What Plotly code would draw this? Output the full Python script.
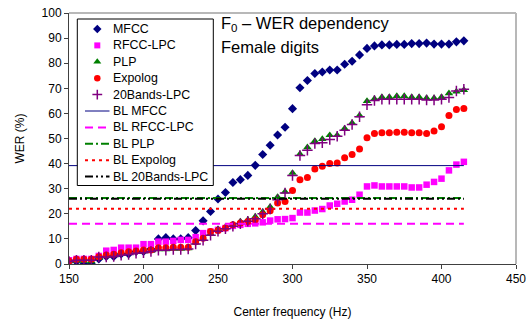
import plotly.graph_objects as go

freq = [150, 155, 160, 165, 170, 175, 180, 185, 190, 195, 200, 205, 210, 215, 220, 225, 230, 235,
        240, 245, 250, 255, 260, 265, 270, 275, 280, 285, 290, 295, 300, 305, 310, 315, 320, 325,
        330, 335, 340, 345, 350, 355, 360, 365, 370, 375, 380, 385, 390, 395, 400, 405, 410, 415]

mfcc = [1, 1, 0, 0, 2, 3, 3, 4, 4, 5, 5, 6, 10, 10.5, 10, 10, 10.5, 13.3, 17.2, 20.9, 25.9, 28.5,
        32.5, 33.6, 35.3, 39.3, 43.6, 47.3, 51.4, 54.5, 61.9, 70.2, 73.1, 75.9, 76.5, 77.3, 77.3,
        79.6, 80.8, 83.3, 85.9, 86.9, 87.3, 87.3, 87.5, 87.5, 87.8, 87.8, 88, 87.6, 87.6, 87.6, 88.5, 88.9]

rfcc_lpc = [1.5, 2, 2, 2, 3.2, 5.3, 5.6, 6.5, 6.5, 6.5, 7.9, 7.9, 8.9, 8.9, 9.2, 9.6, 9.6, 10.7,
            12.3, 12.9, 13.6, 14.3, 15.2, 15.6, 16, 16.2, 16.6, 17.3, 17.8, 17.9, 18.3, 20.5, 20.5,
            21.3, 21.9, 23.3, 24, 24.9, 25.6, 27.6, 30.9, 31.3, 30.9, 30.9, 30.9, 30.9, 30.5, 30.5,
            31.6, 32.7, 34, 37.3, 39.6, 40.7]

plp = [1.0, 1.3, 1.2, 1.0, 2.5, 3.2, 3.5, 4.0, 4.3, 4.8, 5.0, 5.2, 5.8, 5.8, 6.0, 6.0, 6.2, 8.5,
       10, 12, 13.9, 14.5, 15.5, 16.9, 17.6, 18.9, 20.8, 22.8, 26.7, 28.8, 36.3, 43.8, 46.5, 49,
       49.8, 51.3, 51.3, 54, 56.2, 59.2, 64.9, 65.8, 66.5, 66.5, 66.9, 66.9, 66.5, 66.5, 66.1,
       66.1, 66.5, 68, 68.7, 69.3]

expolog = [1.2, 1.9, 1.9, 1.9, 2.9, 3.6, 3.9, 4.5, 4.9, 5.2, 5.6, 5.6, 6.5, 6.5, 6.7, 6.7, 6.7,
           8.9, 10.3, 12.9, 13.3, 14.3, 15.6, 16.3, 16.9, 17.6, 19.6, 21.2, 24.3, 24.9, 29.3,
           33.6, 34.5, 37.8, 38.9, 40, 40.2, 42.3, 43.6, 45.8, 50.3, 52, 52.3, 52.3, 52.5, 52.5,
           52.3, 52.3, 52, 53, 54.7, 59.2, 61.6, 62]

bands20_lpc = [1.0, 1.5, 1.5, 1.5, 2.8, 2.8, 3.0, 3.5, 3.8, 4.3, 4.5, 5.0, 5.5, 5.5, 5.8, 5.8,
               6.0, 8, 9.5, 11.5, 13, 14, 15, 16, 17, 18, 20, 21.9, 25.6, 28.3, 35.3, 43.2, 45.3,
               48, 48.3, 49.6, 50.9, 53.3, 55.6, 58.7, 63.4, 65.1, 65.6, 65.6, 65.6, 65.6, 65.6,
               65.6, 65.3, 65.3, 65.6, 66.3, 68.9, 69.6]

baseline_x = [150, 415]
bl_mfcc = 39.2
bl_rfcc_lpc = 16
bl_plp = 26.3
bl_expolog = 22
bl_20bands = 26

FONT = "Liberation Sans, Arial, sans-serif"

# plot-area geometry (px) used to place the hand-drawn legend
W, H = 531, 320
ML, MR, MT, MB = 69, 15, 13, 56
PW, PH = W - ML - MR, H - MT - MB


def px_x(p):
    return (p - ML) / PW


def px_y(p):
    return (H - MB - p) / PH


marker_series = [
    ("MFCC", mfcc, dict(symbol="diamond", size=7, color="#000080")),
    ("RFCC-LPC", rfcc_lpc, dict(symbol="square", size=6.5, color="#FF00FF")),
    ("PLP", plp, dict(symbol="triangle-up", size=7.5, color="#008000")),
    ("Expolog", expolog, dict(symbol="circle", size=7, color="#FF0000")),
    ("20Bands-LPC", bands20_lpc, dict(symbol="cross-thin", size=7.5, color="#800080",
                                      line=dict(color="#800080", width=1.5))),
]
line_series = [
    ("BL MFCC", bl_mfcc, dict(color="#000080", width=1)),
    ("BL RFCC-LPC", bl_rfcc_lpc, dict(color="#FF00FF", width=2, dash="8px,5px")),
    ("BL PLP", bl_plp, dict(color="#008000", width=2, dash="8px,3px,2px,3px")),
    ("BL Expolog", bl_expolog, dict(color="#FF0000", width=2, dash="3px,4px")),
    ("BL 20Bands-LPC", bl_20bands, dict(color="#000000", width=2, dash="8px,3px,2px,3px,2px,3px")),
]

fig = go.Figure()

for name, vals, mk in marker_series:
    fig.add_trace(go.Scatter(x=freq, y=vals, mode="markers", name=name, marker=mk,
                             showlegend=False))
for name, val, ln in line_series:
    fig.add_trace(go.Scatter(x=baseline_x, y=[val, val], mode="lines", name=name, line=ln,
                             showlegend=False))

# hand-drawn legend on an overlay axis (paper fractions of the plot area)
box_l, box_r, box_t, box_b = 77.3, 213.3, 19, 185.5
fig.add_trace(go.Scatter(
    x=[px_x(box_l), px_x(box_r), px_x(box_r), px_x(box_l), px_x(box_l)],
    y=[px_y(box_t), px_y(box_t), px_y(box_b), px_y(box_b), px_y(box_t)],
    mode="lines", fill="toself", fillcolor="white", line=dict(color="#000000", width=1),
    xaxis="x2", yaxis="y2", showlegend=False, hoverinfo="skip"))

row0, row_step = 29, 16.4
sym_x, line_x0, line_x1, text_x = 97.3, 85, 109.5, 111
annotations = []
for k, (name, _, mk) in enumerate(marker_series):
    yy = px_y(row0 + k * row_step)
    small = dict(mk)
    small["size"] = mk["size"] - 0.5
    fig.add_trace(go.Scatter(x=[px_x(sym_x)], y=[yy], mode="markers", marker=small,
                             xaxis="x2", yaxis="y2", showlegend=False, hoverinfo="skip"))
    annotations.append((name, yy))
for j, (name, _, ln) in enumerate(line_series):
    yy = px_y(row0 + (j + len(marker_series)) * row_step)
    fig.add_trace(go.Scatter(x=[px_x(line_x0), px_x(line_x1)], y=[yy, yy], mode="lines",
                             line=ln, xaxis="x2", yaxis="y2", showlegend=False,
                             hoverinfo="skip"))
    annotations.append((name, yy))

ann = [dict(text=t, xref="paper", yref="paper", x=px_x(text_x), y=yy, xanchor="left",
            yanchor="middle", showarrow=False, font=dict(family=FONT, size=12.4))
       for t, yy in annotations]
ann += [
    dict(text="F<sub>0</sub> – WER dependency", xref="paper", yref="paper",
         x=0.335, y=0.958, xanchor="left", yanchor="middle", showarrow=False,
         font=dict(family=FONT, size=16.5)),
    dict(text="Female digits", xref="paper", yref="paper",
         x=0.335, y=0.864, xanchor="left", yanchor="middle", showarrow=False,
         font=dict(family=FONT, size=16.5)),
]

fig.update_layout(
    width=W, height=H,
    margin=dict(l=ML, r=MR, t=MT, b=MB, autoexpand=False),
    paper_bgcolor="white", plot_bgcolor="white",
    font=dict(family=FONT, size=12, color="#000000"),
    showlegend=False,
    xaxis=dict(range=[150, 450], tickvals=[150, 200, 250, 300, 350, 400, 450],
               ticks="outside", ticklen=4, tickcolor="#404040", showline=True,
               linecolor="#404040", linewidth=1, showgrid=False, zeroline=False,
               tickfont=dict(size=12), automargin=False,
               title=dict(text="Center frequency (Hz)", font=dict(size=12), standoff=22)),
    yaxis=dict(range=[0, 100], tickvals=list(range(0, 101, 10)),
               ticks="outside", ticklen=4, tickcolor="#404040", showline=True,
               linecolor="#404040", linewidth=1, showgrid=False, zeroline=False,
               tickfont=dict(size=12), automargin=False,
               title=dict(text="WER (%)", font=dict(size=12), standoff=14)),
    xaxis2=dict(overlaying="x", range=[0, 1], visible=False, anchor="y2", fixedrange=True),
    yaxis2=dict(overlaying="y", range=[0, 1], visible=False, anchor="x2", fixedrange=True),
    shapes=[
        dict(type="line", xref="paper", yref="paper", x0=0, x1=1, y0=1, y1=1,
             line=dict(color="#B8B8B8", width=2)),
        dict(type="line", xref="paper", yref="paper", x0=1, x1=1, y0=0, y1=1,
             line=dict(color="#B8B8B8", width=2)),
    ],
    annotations=ann,
)

fig.write_html("out.html")
